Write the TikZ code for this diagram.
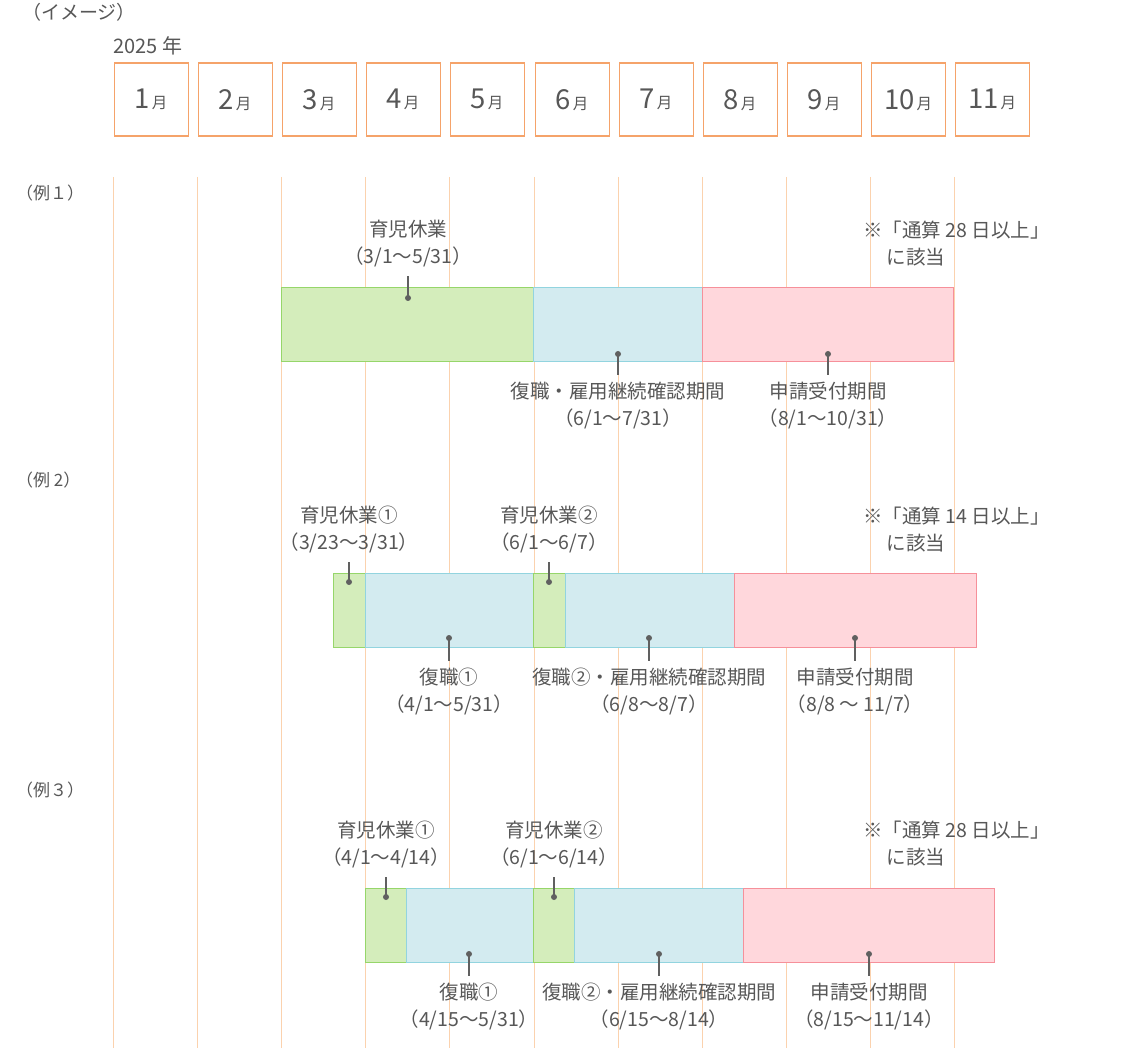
\documentclass[tikz,border=0pt]{standalone}
\usepackage{fontspec}
\setmainfont{Noto Sans CJK JP}
\usetikzlibrary{positioning}
\definecolor{txtgray}{HTML}{575757}
\definecolor{leadgray}{HTML}{606060}
\definecolor{boxorange}{HTML}{F5A36A}
\definecolor{gridorange}{HTML}{FBD2AE}
\definecolor{leavefill}{HTML}{D4EDBB}
\definecolor{leaveline}{HTML}{96D66A}
\definecolor{workfill}{HTML}{D3EBF0}
\definecolor{workline}{HTML}{92D4DF}
\definecolor{applyfill}{HTML}{FFD7DC}
\definecolor{applyline}{HTML}{F6909A}

\begin{document}
\begin{tikzpicture}[
x=1pt, y=-1pt,
monthbox/.style={draw=boxorange,
  line width=1.4pt,
  minimum width=74pt,
  minimum height=73pt,
  inner sep=0pt,
  text=txtgray,
},
gridline/.style={draw=gridorange, line width=1.8pt},
leavebar/.style={fill=leavefill, draw=leaveline, line width=1pt},
workbar/.style={fill=workfill, draw=workline, line width=1pt},
applybar/.style={fill=applyfill, draw=applyline, line width=1pt},
lbl/.style={text=txtgray,
  align=center,
  inner sep=0pt,
  font=\fontsize{19.5}{27}\selectfont
},
note/.style={text=txtgray,
  align=left,
  inner sep=0pt,
  anchor=west,
  font=\fontsize{19.5}{27}\selectfont
},
exlbl/.style={text=txtgray, inner sep=0pt, anchor=west,
  font=\fontsize{17}{20}\selectfont},
dot/.style={circle, fill=leadgray, inner sep=0pt, minimum size=6pt},
leader/.style={draw=leadgray, line width=1.2pt},
]
\useasboundingbox (0,0) rectangle (1128,1048);

% header
\node[exlbl, font=\fontsize{19}{22}\selectfont] (img) at (22,12) {（イメージ）};
\node[text=txtgray, inner sep=0pt, anchor=base west,
  font=\fontsize{20}{24}\selectfont] (year) at (113,54) {2025 年};

% months and grid
\foreach \m/\x in {1/113, 2/197, 3/281, 4/365, 5/449, 6/534, 7/618, 8/702, 9/786, 10/870, 11/954} {
  \coordinate (top\m) at (\x+0.5,177);
  \coordinate (bot\m) at (\x+0.5,1048);
  \draw[gridline] (top\m) -- (bot\m);
  \node[monthbox, anchor=north west] (mon\m) at (\x+0.5,62.5)
    {{\fontsize{27.5}{27}\selectfont\m}\,{\fontsize{15.5}{16}\selectfont 月}};
}

% example 1
\node[exlbl] (ex1) at (16,193) {（例１）};
\draw[leavebar] (281,288) rectangle (533,362);
\draw[workbar] (533,288) rectangle (702,362);
\draw[applybar] (702,288) rectangle (953,362);

\node[dot] (e1leave) at (408,298) {};
\node[dot] (e1work) at (618,354) {};
\node[dot] (e1apply) at (828,354) {};
\node[lbl] (e1leavelbl) at (408,243.5) {育児休業\\（3/1〜5/31）};
\node[lbl] (e1worklbl) at (618,405.5) {復職・雇用継続確認期間\\（6/1〜7/31）};
\node[lbl] (e1applylbl) at (828,405.5) {申請受付期間\\（8/1〜10/31）};
\draw[leader, shorten >=9pt] (e1leave.center) -- (e1leavelbl);
\draw[leader, shorten >=7pt] (e1work.center) -- (e1worklbl);
\draw[leader, shorten >=7pt] (e1apply.center) -- (e1applylbl);
\node[note] (e1note) at (863,243.5) {※「通算 28 日以上」\\\hspace{1.2em}に該当};

% example 2
\node[exlbl] (ex2) at (16,480) {（例 2）};
\draw[leavebar] (333,573) rectangle (365,647);
\draw[workbar] (365,573) rectangle (533,647);
\draw[leavebar] (533,573) rectangle (565,647);
\draw[workbar] (565,573) rectangle (734,647);
\draw[applybar] (734,573) rectangle (976,647);

\node[dot] (e2leavea) at (349,582) {};
\node[dot] (e2leaveb) at (549,582) {};
\node[dot] (e2worka) at (449,638) {};
\node[dot] (e2workb) at (649,638) {};
\node[dot] (e2apply) at (855,638) {};
\node[lbl] (e2leavealbl) at (349,529.5) {育児休業①\\（3/23〜3/31）};
\node[lbl] (e2leaveblbl) at (549,529.5) {育児休業②\\（6/1〜6/7）};
\node[lbl] (e2workalbl) at (449,691.5) {復職①\\（4/1〜5/31）};
\node[lbl] (e2workblbl) at (649,691.5) {復職②・雇用継続確認期間\\（6/8〜8/7）};
\node[lbl] (e2applylbl) at (855,691.5) {申請受付期間\\（8/8 〜 11/7）};
\draw[leader, shorten >=9pt] (e2leavea.center) -- (e2leavealbl);
\draw[leader, shorten >=9pt] (e2leaveb.center) -- (e2leaveblbl);
\draw[leader, shorten >=7pt] (e2worka.center) -- (e2workalbl);
\draw[leader, shorten >=7pt] (e2workb.center) -- (e2workblbl);
\draw[leader, shorten >=7pt] (e2apply.center) -- (e2applylbl);
\node[note] (e2note) at (863,529.5) {※「通算 14 日以上」\\\hspace{1.2em}に該当};

% example 3
\node[exlbl] (ex3) at (16,790) {（例３）};
\draw[leavebar] (365,888) rectangle (406,962);
\draw[workbar] (406,888) rectangle (533,962);
\draw[leavebar] (533,888) rectangle (574,962);
\draw[workbar] (574,888) rectangle (743,962);
\draw[applybar] (743,888) rectangle (994,962);

\node[dot] (e3leavea) at (386,897) {};
\node[dot] (e3leaveb) at (554,897) {};
\node[dot] (e3worka) at (469,954) {};
\node[dot] (e3workb) at (659,954) {};
\node[dot] (e3apply) at (869,954) {};
\node[lbl] (e3leavealbl) at (386,844) {育児休業①\\（4/1〜4/14）};
\node[lbl] (e3leaveblbl) at (554,844) {育児休業②\\（6/1〜6/14）};
\node[lbl] (e3workalbl) at (469,1006.5) {復職①\\（4/15〜5/31）};
\node[lbl] (e3workblbl) at (659,1006.5) {復職②・雇用継続確認期間\\（6/15〜8/14）};
\node[lbl] (e3applylbl) at (869,1006.5) {申請受付期間\\（8/15〜11/14）};
\draw[leader, shorten >=9pt] (e3leavea.center) -- (e3leavealbl);
\draw[leader, shorten >=9pt] (e3leaveb.center) -- (e3leaveblbl);
\draw[leader, shorten >=7pt] (e3worka.center) -- (e3workalbl);
\draw[leader, shorten >=7pt] (e3workb.center) -- (e3workblbl);
\draw[leader, shorten >=7pt] (e3apply.center) -- (e3applylbl);
\node[note] (e3note) at (863,844) {※「通算 28 日以上」\\\hspace{1.2em}に該当};
\end{tikzpicture}
\end{document}
